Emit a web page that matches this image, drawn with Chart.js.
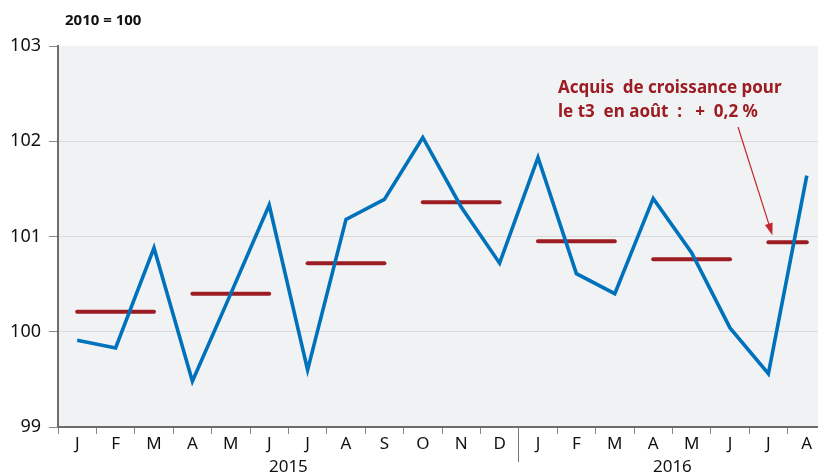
<!DOCTYPE html>
<html>
<head>
<meta charset="utf-8">
<script src="https://cdn.jsdelivr.net/npm/chart.js@4.4.0/dist/chart.umd.min.js"></script>
<style>
body{margin:0;overflow:hidden;background:#fff;}
#wrap{width:826px;height:476px;}
</style>
</head>
<body>
<div id="wrap"><canvas id="myChart" width="826" height="476"></canvas></div>
<script>
// données (indice 2010 = 100)
var mois = ["J","F","M","A","M","J","J","A","S","O","N","D","J","F","M","A","M","J","J","A"];
var annees = ["2015","2016"];
var indice = [99.91,99.83,100.88,99.48,100.40,101.33,99.60,101.18,101.39,102.04,101.31,100.72,
              101.83,100.61,100.40,101.40,100.83,100.04,99.56,101.64];
var moyTrim = [100.21,100.40,100.72,101.36,100.95,100.76,100.94];
var debutTrim = [0,3,6,9,12,15,18];
var finTrim = [2,5,8,11,14,17,19];
var yMin = 99, yMax = 103;

var police = "'Noto Sans', sans-serif";
var rouge = "#9b1c22";
var bleu = "#0072bb";

var datasets = [{
  label: "indice",
  data: indice,
  borderColor: bleu,
  borderWidth: 3.6,
  pointRadius: 0,
  tension: 0,
  order: 0
}];

for (let q = 0; q < moyTrim.length; q++) {
  let d = [];
  for (let k = 0; k < mois.length; k++) {
    d.push(k >= debutTrim[q] && k <= finTrim[q] ? moyTrim[q] : null);
  }
  datasets.push({
    label: "t" + q,
    data: d,
    borderColor: rouge,
    borderWidth: 4,
    borderCapStyle: "round",
    pointRadius: 0,
    spanGaps: false,
    order: 1
  });
}

var decor = {
  id: "decor",
  beforeDraw(chart) {
    const c = chart.ctx, a = chart.chartArea;
    c.save();
    c.fillStyle = "#f1f2f4";
    c.fillRect(a.left, a.top, a.right - a.left, a.bottom - a.top);
    c.restore();
  },
  afterDraw(chart) {
    const c = chart.ctx, a = chart.chartArea;
    const xs = chart.scales.x, ys = chart.scales.y;
    c.save();
    // unité
    c.fillStyle = "#111";
    c.font = "bold 15px " + police;
    c.textBaseline = "alphabetic";
    c.textAlign = "left";
    c.fillText("2010 = 100", 65, 25);

    // séparateur d'années
    let xsep = (xs.getPixelForValue(11) + xs.getPixelForValue(12)) / 2;
    c.strokeStyle = "#777";
    c.lineWidth = 1;
    c.beginPath();
    c.moveTo(Math.round(xsep) - 0.5, a.bottom);
    c.lineTo(Math.round(xsep) - 0.5, a.bottom + 35);
    c.stroke();

    // années
    c.fillStyle = "#111";
    c.font = "17px " + police;
    c.textAlign = "center";
    c.fillText(annees[0], (xs.getPixelForValue(0) + xs.getPixelForValue(11)) / 2, 472);
    c.fillText(annees[1], (xs.getPixelForValue(12) + xs.getPixelForValue(19)) / 2, 472);

    // annotation
    c.fillStyle = rouge;
    c.font = "bold 17px " + police;
    c.textAlign = "left";
    c.fillText("Acquis  de croissance pour", 558, 93);
    c.fillText("le t3  en août  :   +  0,2 %", 558, 117);

    let x0 = 738, y0 = 127;
    let x1 = xs.getPixelForValue(18) + 4, y1 = ys.getPixelForValue(moyTrim[6]) - 7;
    let ang = Math.atan2(y1 - y0, x1 - x0);
    c.strokeStyle = "#c1272d";
    c.fillStyle = "#c1272d";
    c.lineWidth = 1.2;
    c.beginPath();
    c.moveTo(x0, y0);
    c.lineTo(x1 - 9 * Math.cos(ang), y1 - 9 * Math.sin(ang));
    c.stroke();
    c.beginPath();
    c.moveTo(x1, y1);
    c.lineTo(x1 - 12 * Math.cos(ang) + 4 * Math.sin(ang), y1 - 12 * Math.sin(ang) - 4 * Math.cos(ang));
    c.lineTo(x1 - 12 * Math.cos(ang) - 4 * Math.sin(ang), y1 - 12 * Math.sin(ang) + 4 * Math.cos(ang));
    c.closePath();
    c.fill();
    c.restore();
  }
};

new Chart(document.getElementById("myChart"), {
  type: "line",
  data: { labels: mois, datasets: datasets },
  options: {
    responsive: false,
    animation: false,
    layout: { padding: { top: 46, left: 0, right: 0, bottom: 0 } },
    plugins: { legend: { display: false }, tooltip: { enabled: false } },
    scales: {
      x: {
        offset: true,
        grid: { offset: true, drawOnChartArea: false, drawTicks: true, tickLength: 7, tickColor: "#888", lineWidth: 1 },
        border: { color: "#6d6d6d", width: 2 },
        ticks: { color: "#111", font: { size: 17, family: police }, padding: 0, maxRotation: 0, autoSkip: false },
        afterFit(s) { s.height = 49; }
      },
      y: {
        min: yMin,
        max: yMax,
        grid: {
          color: function (ctx) { return (ctx.tick && (ctx.tick.value == yMax || ctx.tick.value == yMin)) ? "rgba(0,0,0,0)" : "#dadade"; },
          tickColor: "#888",
          tickLength: 9,
          lineWidth: 1
        },
        border: { color: "#6d6d6d", width: 2 },
        ticks: { stepSize: 1, color: "#111", font: { size: 18, family: police }, padding: 8 },
        afterFit(s) { s.width = 58; }
      }
    }
  },
  plugins: [decor]
});
</script>
</body>
</html>
